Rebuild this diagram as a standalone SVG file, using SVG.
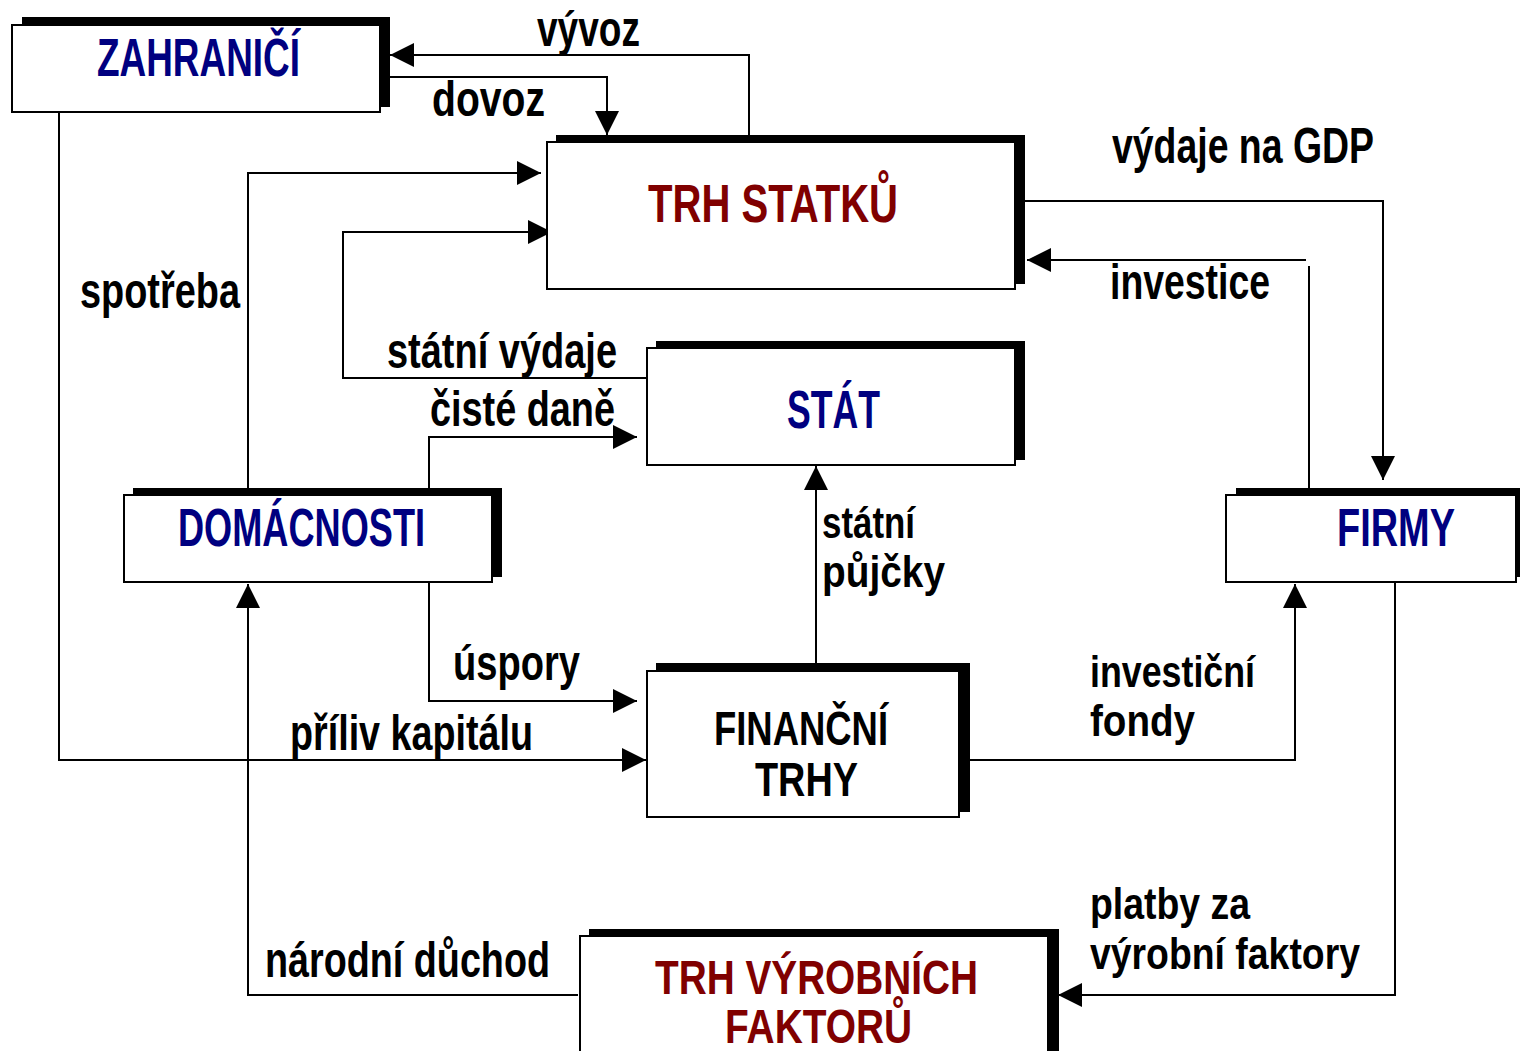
<svg xmlns="http://www.w3.org/2000/svg" width="1520" height="1051" viewBox="0 0 1520 1051">
<style>
.shadow{fill:#000}
.box{fill:#fff;stroke:#000;stroke-width:2}
.t{font-family:"Liberation Sans",Arial,sans-serif;font-weight:bold;font-size:54px}
.t2{font-size:48px}
.navy{fill:#000080}
.red{fill:#800000}
.blk{fill:#000}
.lbl{font-family:"Liberation Sans",Arial,sans-serif;font-weight:bold;font-size:50px;fill:#000}
.l2{font-size:45px}
.c{fill:none;stroke:#000;stroke-width:2}
</style>
<defs>
<marker id="ah" markerUnits="userSpaceOnUse" markerWidth="26" markerHeight="26" refX="24" refY="12" orient="auto">
<path d="M0,0 L24,12 L0,24 z" fill="#000"/>
</marker>
</defs>
<rect width="1520" height="1051" fill="#fff"/>
<g id="connectors">
<path class="c" d="M749,135 V55 H390" marker-end="url(#ah)"/>
<path class="c" d="M380,77 H607 V135" marker-end="url(#ah)"/>
<path class="c" d="M248,488 V173 H541" marker-end="url(#ah)"/>
<path class="c" d="M647,378 H343 V232 H552" marker-end="url(#ah)"/>
<path class="c" d="M429,488 V437 H637" marker-end="url(#ah)"/>
<path class="c" d="M1025,201 H1383 V480" marker-end="url(#ah)"/>
<path class="c" d="M1309,488 V266"/>
<path class="c" d="M1306,260 H1027" marker-end="url(#ah)"/>
<path class="c" d="M816,663 V466" marker-end="url(#ah)"/>
<path class="c" d="M429,582 V701 H637" marker-end="url(#ah)"/>
<path class="c" d="M59,112 V760 H646" marker-end="url(#ah)"/>
<path class="c" d="M970,760 H1295 V584" marker-end="url(#ah)"/>
<path class="c" d="M578,995 H248 V584" marker-end="url(#ah)"/>
<path class="c" d="M1395,582 V995 H1058" marker-end="url(#ah)"/>
</g>
<g id="labels">
<text class="lbl" x="537" y="46" textLength="103" lengthAdjust="spacingAndGlyphs">vývoz</text>
<text class="lbl" x="432" y="116" textLength="113" lengthAdjust="spacingAndGlyphs">dovoz</text>
<text class="lbl" x="1112" y="163" textLength="262" lengthAdjust="spacingAndGlyphs">výdaje na GDP</text>
<text class="lbl" x="1110" y="299" textLength="160" lengthAdjust="spacingAndGlyphs">investice</text>
<text class="lbl" x="80" y="308" textLength="160" lengthAdjust="spacingAndGlyphs">spotřeba</text>
<text class="lbl" x="387" y="368" textLength="230" lengthAdjust="spacingAndGlyphs">státní výdaje</text>
<text class="lbl" x="430" y="426" textLength="185" lengthAdjust="spacingAndGlyphs">čisté daně</text>
<text class="lbl l2" x="822" y="538" textLength="93" lengthAdjust="spacingAndGlyphs">státní</text>
<text class="lbl l2" x="822" y="587" textLength="123" lengthAdjust="spacingAndGlyphs">půjčky</text>
<text class="lbl" x="453" y="680" textLength="127" lengthAdjust="spacingAndGlyphs">úspory</text>
<text class="lbl" x="290" y="750" textLength="243" lengthAdjust="spacingAndGlyphs">příliv kapitálu</text>
<text class="lbl l2" x="1090" y="687" textLength="165" lengthAdjust="spacingAndGlyphs">investiční</text>
<text class="lbl l2" x="1090" y="736" textLength="105" lengthAdjust="spacingAndGlyphs">fondy</text>
<text class="lbl l2" x="1090" y="919" textLength="160" lengthAdjust="spacingAndGlyphs">platby za</text>
<text class="lbl l2" x="1090" y="969" textLength="270" lengthAdjust="spacingAndGlyphs">výrobní faktory</text>
<text class="lbl" x="265" y="977" textLength="285" lengthAdjust="spacingAndGlyphs">národní důchod</text>
</g>
<g id="zahranici">
<rect class="shadow" x="22" y="17" width="368" height="90"/>
<rect class="box" x="12" y="25" width="368" height="87"/>
<text class="t navy" x="97" y="76" textLength="203" lengthAdjust="spacingAndGlyphs">ZAHRANIČÍ</text>
</g>
<g id="trh-statku">
<rect class="shadow" x="556" y="135" width="469" height="149"/>
<rect class="box" x="547" y="142" width="468" height="147"/>
<text class="t red" x="648" y="222" textLength="250" lengthAdjust="spacingAndGlyphs">TRH STATKŮ</text>
</g>
<g id="stat">
<rect class="shadow" x="656" y="341" width="369" height="119"/>
<rect class="box" x="647" y="348" width="368" height="117"/>
<text class="t navy" x="787" y="428" textLength="93" lengthAdjust="spacingAndGlyphs">STÁT</text>
</g>
<g id="domacnosti">
<rect class="shadow" x="133" y="488" width="369" height="89"/>
<rect class="box" x="124" y="495" width="368" height="87"/>
<text class="t navy" x="178" y="546" textLength="247" lengthAdjust="spacingAndGlyphs">DOMÁCNOSTI</text>
</g>
<g id="firmy">
<rect class="shadow" x="1236" y="488" width="284" height="89"/>
<rect class="box" x="1226" y="495" width="290" height="87"/>
<text class="t navy" x="1337" y="546" textLength="118" lengthAdjust="spacingAndGlyphs">FIRMY</text>
</g>
<g id="financni-trhy">
<rect class="shadow" x="656" y="663" width="314" height="149"/>
<rect class="box" x="647" y="671" width="312" height="146"/>
<text class="t t2 blk" x="714" y="745" textLength="174" lengthAdjust="spacingAndGlyphs">FINANČNÍ</text>
<text class="t t2 blk" x="755" y="796" textLength="103" lengthAdjust="spacingAndGlyphs">TRHY</text>
</g>
<g id="trh-vyrobnich-faktoru">
<rect class="shadow" x="589" y="929" width="470" height="130"/>
<rect class="box" x="580" y="936" width="468" height="130"/>
<text class="t t2 red" x="655" y="994" textLength="323" lengthAdjust="spacingAndGlyphs">TRH VÝROBNÍCH</text>
<text class="t t2 red" x="725" y="1043" textLength="187" lengthAdjust="spacingAndGlyphs">FAKTORŮ</text>
</g>
</svg>
